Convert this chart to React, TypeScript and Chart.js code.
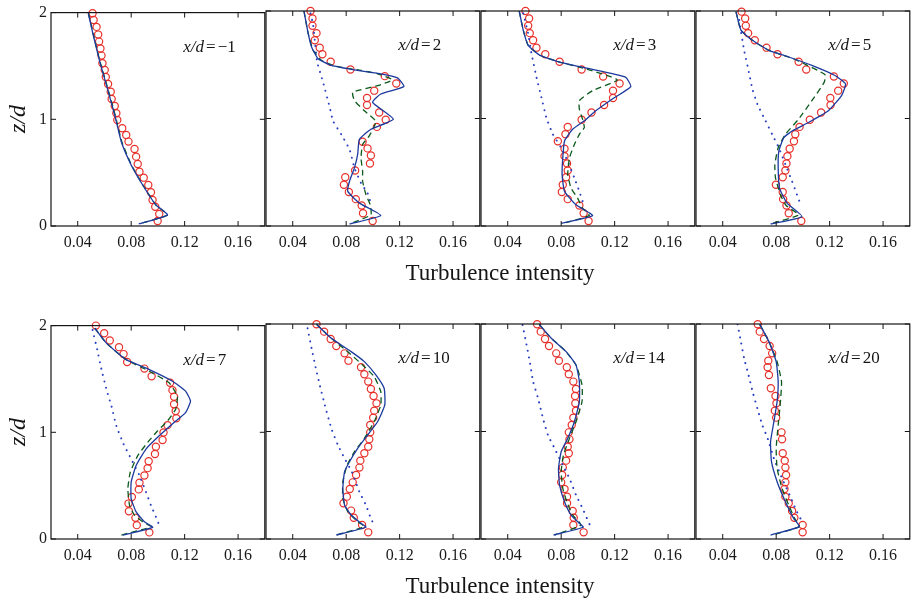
import React, { useEffect, useRef } from "react";
import { Chart, registerables } from "chart.js";

Chart.register(...registerables);

type P = [number, number];

const xTicks = [0.04, 0.08, 0.12, 0.16];
const zTicks = [0, 1, 2];
const xdLabels = ["\u22121", "2", "3", "5", "7", "10", "14", "20"];
const xTitle = "Turbulence intensity";

// x/d = -1
const p1Exp: P[] = [[0.0511,1.994],[0.0519,1.931],[0.0541,1.866],[0.0553,1.794],[0.0560,1.728],[0.0570,1.663],[0.0578,1.597],[0.0585,1.525],[0.0602,1.463],[0.0610,1.397],[0.0627,1.331],[0.0647,1.259],[0.0654,1.191],[0.0677,1.125],[0.0689,1.056],[0.0696,0.994],[0.0733,0.916],[0.0763,0.853],[0.0780,0.791],[0.0825,0.722],[0.0837,0.650],[0.0849,0.581],[0.0862,0.509],[0.0894,0.453],[0.0928,0.384],[0.0948,0.316],[0.0960,0.244],[0.0980,0.181],[0.1010,0.113],[0.0998,0.047]];
const p1Les: P[] = [[0.0479,1.994],[0.0516,1.79],[0.0565,1.54],[0.0615,1.32],[0.0677,1.04],[0.0726,0.79],[0.0800,0.572],[0.0886,0.384],[0.0985,0.197],[0.1072,0.103],[0.0857,0.019]];
const p1Rans: P[] = [[0.0480,1.994],[0.0518,1.79],[0.0567,1.54],[0.0618,1.32],[0.0680,1.04],[0.0730,0.79],[0.0802,0.572],[0.0888,0.384],[0.0985,0.197],[0.1070,0.103],[0.0857,0.019]];
const p1Dot: P[] = [];

// x/d = 2
const p2Exp: P[] = [[0.0533,2.0],[0.0548,1.931],[0.0548,1.862],[0.0578,1.794],[0.0565,1.728],[0.0602,1.659],[0.0622,1.597],[0.0684,1.528],[0.0832,1.456],[0.1089,1.394],[0.1175,1.325],[0.1010,1.259],[0.0956,1.191],[0.0956,1.125],[0.1047,1.056],[0.1096,0.988],[0.1030,0.922],[0.0923,0.784],[0.0960,0.722],[0.0985,0.656],[0.0978,0.581],[0.0867,0.516],[0.0793,0.453],[0.0783,0.384],[0.0820,0.316],[0.0872,0.25],[0.0916,0.191],[0.0926,0.119],[0.0998,0.047]];
const p2Les: P[] = [[0.0484,2.0],[0.0516,1.79],[0.0541,1.666],[0.0590,1.556],[0.0689,1.494],[0.0886,1.447],[0.1059,1.416],[0.1183,1.378],[0.1232,1.297],[0.1059,1.228],[0.0998,1.15],[0.1153,0.994],[0.0985,0.9],[0.0899,0.806],[0.0886,0.666],[0.0862,0.541],[0.0825,0.416],[0.0812,0.322],[0.0899,0.213],[0.1059,0.097],[0.0825,0.019]];
const p2Rans: P[] = [[0.0484,2.0],[0.0516,1.79],[0.0553,1.634],[0.0615,1.541],[0.0714,1.488],[0.0911,1.447],[0.1035,1.416],[0.1146,1.359],[0.1035,1.306],[0.0849,1.244],[0.0862,1.166],[0.0936,1.072],[0.1022,0.972],[0.0973,0.838],[0.0923,0.759],[0.0911,0.634],[0.0923,0.509],[0.0923,0.416],[0.0948,0.291],[0.0980,0.197],[0.0985,0.103],[0.0837,0.025]];
const p2Dot: P[] = [[0.0533,1.978],[0.0553,1.869],[0.0565,1.728],[0.0583,1.525],[0.0627,1.338],[0.0677,1.103],[0.0701,0.978],[0.0763,0.853],[0.0825,0.713],[0.0862,0.541],[0.0911,0.4],[0.0960,0.306],[0.0985,0.213]];

// x/d = 3
const p3Exp: P[] = [[0.0533,2.0],[0.0560,1.931],[0.0553,1.862],[0.0565,1.794],[0.0590,1.728],[0.0615,1.659],[0.0681,1.597],[0.0788,1.528],[0.0953,1.456],[0.1114,1.391],[0.1237,1.325],[0.1188,1.259],[0.1188,1.191],[0.1121,1.125],[0.1027,1.056],[0.0953,0.988],[0.0849,0.922],[0.0832,0.853],[0.0775,0.788],[0.0825,0.719],[0.0825,0.65],[0.0844,0.581],[0.0849,0.516],[0.0837,0.453],[0.0812,0.384],[0.0805,0.316],[0.0849,0.25],[0.0936,0.191],[0.0968,0.119],[0.1005,0.047]];
const p3Les: P[] = [[0.0486,2.0],[0.0516,1.822],[0.0553,1.681],[0.0640,1.588],[0.0788,1.525],[0.1010,1.463],[0.1281,1.384],[0.1321,1.297],[0.1183,1.181],[0.1059,1.072],[0.0973,0.978],[0.0886,0.9],[0.0825,0.791],[0.0812,0.634],[0.0807,0.478],[0.0825,0.322],[0.0911,0.197],[0.1035,0.097],[0.0800,0.025]];
const p3Rans: P[] = [[0.0486,2.0],[0.0516,1.822],[0.0553,1.681],[0.0640,1.588],[0.0788,1.525],[0.1010,1.453],[0.1220,1.359],[0.1035,1.259],[0.0936,1.166],[0.0936,1.088],[0.0960,0.994],[0.0973,0.916],[0.0936,0.853],[0.0899,0.759],[0.0862,0.634],[0.0849,0.478],[0.0874,0.353],[0.0923,0.259],[0.0960,0.166],[0.1010,0.097],[0.0812,0.025]];
const p3Dot: P[] = [[0.0516,1.978],[0.0553,1.79],[0.0578,1.603],[0.0615,1.384],[0.0652,1.197],[0.0689,1.009],[0.0738,0.853],[0.0800,0.728],[0.0849,0.603],[0.0899,0.447],[0.0936,0.322],[0.0973,0.181]];

// x/d = 5
const p4Exp: P[] = [[0.0541,1.994],[0.0568,1.931],[0.0573,1.862],[0.0590,1.794],[0.0640,1.728],[0.0728,1.659],[0.0810,1.597],[0.0968,1.528],[0.1025,1.456],[0.1232,1.391],[0.1306,1.325],[0.1264,1.259],[0.1205,1.191],[0.1207,1.125],[0.1136,1.056],[0.1052,0.988],[0.0975,0.922],[0.0943,0.853],[0.0933,0.788],[0.0901,0.719],[0.0884,0.65],[0.0877,0.581],[0.0869,0.516],[0.0849,0.453],[0.0798,0.384],[0.0849,0.316],[0.0852,0.25],[0.0877,0.191],[0.0894,0.119],[0.0988,0.047]];
const p4Les: P[] = [[0.0499,1.994],[0.0536,1.822],[0.0622,1.728],[0.0746,1.634],[0.0894,1.572],[0.1067,1.494],[0.1240,1.4],[0.1319,1.322],[0.1289,1.213],[0.1190,1.072],[0.1042,0.963],[0.0919,0.884],[0.0857,0.822],[0.0820,0.697],[0.0815,0.541],[0.0825,0.353],[0.0881,0.213],[0.0993,0.088],[0.0758,0.019]];
const p4Rans: P[] = [[0.0499,1.994],[0.0536,1.822],[0.0622,1.728],[0.0746,1.634],[0.0894,1.572],[0.0968,1.534],[0.1165,1.409],[0.1160,1.338],[0.1067,1.166],[0.0968,0.994],[0.0869,0.853],[0.0815,0.728],[0.0790,0.572],[0.0795,0.447],[0.0832,0.291],[0.0874,0.191],[0.0968,0.103],[0.0770,0.025]];
const p4Dot: P[] = [[0.0523,1.916],[0.0560,1.634],[0.0593,1.447],[0.0622,1.275],[0.0659,1.134],[0.0721,0.978],[0.0770,0.853],[0.0820,0.728],[0.0869,0.572],[0.0919,0.416],[0.0956,0.291],[0.0988,0.181]];

// x/d = 7
const p5Exp: P[] = [[0.0536,2.0],[0.0598,1.929],[0.0640,1.86],[0.0709,1.798],[0.0743,1.733],[0.0770,1.659],[0.0899,1.597],[0.0953,1.526],[0.1091,1.464],[0.1109,1.395],[0.1121,1.333],[0.1121,1.262],[0.1133,1.2],[0.1138,1.132],[0.1072,1.067],[0.1042,0.998],[0.1035,0.927],[0.0985,0.865],[0.0978,0.797],[0.0931,0.729],[0.0923,0.664],[0.0899,0.595],[0.0862,0.527],[0.0857,0.465],[0.0805,0.394],[0.0780,0.332],[0.0783,0.26],[0.0832,0.198],[0.0842,0.13],[0.0936,0.062]];
const p5Les: P[] = [[0.0528,1.975],[0.0615,1.836],[0.0763,1.681],[0.0936,1.588],[0.1109,1.479],[0.1207,1.386],[0.1244,1.293],[0.1207,1.184],[0.1121,1.091],[0.1010,0.967],[0.0911,0.843],[0.0837,0.688],[0.0800,0.533],[0.0800,0.378],[0.0837,0.254],[0.0899,0.161],[0.0961,0.109],[0.0738,0.037]];
const p5Rans: P[] = [[0.0528,1.975],[0.0615,1.836],[0.0763,1.681],[0.0936,1.572],[0.1084,1.464],[0.1146,1.34],[0.1133,1.216],[0.1072,1.107],[0.0998,1.014],[0.0923,0.905],[0.0849,0.781],[0.0793,0.626],[0.0775,0.471],[0.0788,0.316],[0.0825,0.223],[0.0886,0.161],[0.0948,0.115],[0.0726,0.037]];
const p5Dot: P[] = [[0.0511,1.96],[0.0546,1.774],[0.0578,1.588],[0.0615,1.402],[0.0652,1.247],[0.0689,1.06],[0.0743,0.89],[0.0800,0.75],[0.0862,0.595],[0.0911,0.44],[0.0948,0.316],[0.0985,0.208],[0.1010,0.13]];

// x/d = 10
const p6Exp: P[] = [[0.0578,1.997],[0.0635,1.929],[0.0684,1.86],[0.0726,1.795],[0.0788,1.727],[0.0817,1.659],[0.0911,1.597],[0.0936,1.532],[0.0965,1.464],[0.0985,1.395],[0.1005,1.33],[0.1027,1.262],[0.1010,1.194],[0.1002,1.129],[0.0980,1.06],[0.0980,0.992],[0.0973,0.927],[0.0965,0.859],[0.0936,0.797],[0.0906,0.729],[0.0899,0.664],[0.0874,0.595],[0.0849,0.527],[0.0827,0.465],[0.0805,0.394],[0.0780,0.332],[0.0837,0.264],[0.0857,0.198],[0.0919,0.13],[0.0965,0.062]];
const p6Les: P[] = [[0.0578,1.997],[0.0689,1.867],[0.0837,1.743],[0.0936,1.65],[0.1022,1.526],[0.1084,1.402],[0.1089,1.247],[0.1035,1.091],[0.0960,0.967],[0.0886,0.843],[0.0825,0.719],[0.0788,0.626],[0.0775,0.471],[0.0788,0.316],[0.0837,0.223],[0.0911,0.146],[0.0948,0.109],[0.0726,0.037]];
const p6Rans: P[] = [[0.0578,1.997],[0.0689,1.867],[0.0825,1.727],[0.0923,1.619],[0.1010,1.51],[0.1059,1.371],[0.1059,1.247],[0.1010,1.091],[0.0936,0.936],[0.0862,0.812],[0.0807,0.688],[0.0775,0.533],[0.0775,0.378],[0.0812,0.254],[0.0886,0.161],[0.0936,0.115],[0.0726,0.037]];
const p6Dot: P[] = [[0.0511,1.96],[0.0541,1.774],[0.0573,1.588],[0.0602,1.433],[0.0640,1.247],[0.0689,1.029],[0.0738,0.874],[0.0788,0.75],[0.0842,0.626],[0.0899,0.44],[0.0948,0.316],[0.0980,0.208],[0.1010,0.124]];

// x/d = 14
const p7Exp: P[] = [[0.0620,1.997],[0.0647,1.929],[0.0679,1.86],[0.0709,1.795],[0.0763,1.727],[0.0783,1.659],[0.0842,1.597],[0.0857,1.532],[0.0891,1.464],[0.0911,1.395],[0.0904,1.33],[0.0906,1.262],[0.0911,1.194],[0.0891,1.129],[0.0879,1.06],[0.0857,0.992],[0.0862,0.927],[0.0849,0.859],[0.0857,0.797],[0.0837,0.729],[0.0812,0.664],[0.0807,0.595],[0.0800,0.527],[0.0825,0.465],[0.0844,0.394],[0.0844,0.332],[0.0886,0.26],[0.0894,0.198],[0.0891,0.13],[0.0968,0.062]];
const p7Les: P[] = [[0.0635,1.997],[0.0726,1.867],[0.0837,1.743],[0.0911,1.619],[0.0936,1.464],[0.0936,1.278],[0.0899,1.091],[0.0849,0.936],[0.0800,0.812],[0.0780,0.657],[0.0788,0.502],[0.0825,0.347],[0.0874,0.223],[0.0936,0.146],[0.0965,0.109],[0.0743,0.037]];
const p7Rans: P[] = [[0.0635,1.997],[0.0714,1.882],[0.0825,1.758],[0.0911,1.619],[0.0956,1.433],[0.0956,1.278],[0.0911,1.091],[0.0862,0.936],[0.0817,0.781],[0.0800,0.626],[0.0812,0.471],[0.0842,0.347],[0.0886,0.223],[0.0948,0.13],[0.0751,0.037]];
const p7Dot: P[] = [[0.0511,1.991],[0.0541,1.805],[0.0565,1.65],[0.0590,1.464],[0.0627,1.309],[0.0664,1.122],[0.0701,0.967],[0.0751,0.843],[0.0812,0.688],[0.0862,0.564],[0.0911,0.409],[0.0960,0.285],[0.0998,0.177],[0.1015,0.13]];

// x/d = 20
const p8Exp: P[] = [[0.0662,1.997],[0.0677,1.929],[0.0709,1.86],[0.0751,1.795],[0.0770,1.727],[0.0741,1.659],[0.0736,1.597],[0.0746,1.526],[0.0760,1.402],[0.0795,1.33],[0.0802,1.262],[0.0790,1.194],[0.0800,1.129],[0.0840,0.992],[0.0844,0.927],[0.0849,0.797],[0.0864,0.729],[0.0869,0.664],[0.0874,0.595],[0.0869,0.527],[0.0862,0.465],[0.0869,0.394],[0.0894,0.332],[0.0919,0.26],[0.0936,0.198],[0.0998,0.13],[0.0998,0.062]];
const p8Les: P[] = [[0.0677,1.997],[0.0746,1.836],[0.0800,1.65],[0.0815,1.464],[0.0807,1.278],[0.0783,1.091],[0.0758,0.905],[0.0765,0.719],[0.0807,0.533],[0.0869,0.347],[0.0931,0.192],[0.0973,0.115],[0.0758,0.037]];
const p8Rans: P[] = [[0.0677,1.997],[0.0746,1.836],[0.0807,1.65],[0.0840,1.464],[0.0832,1.278],[0.0815,1.06],[0.0800,0.843],[0.0807,0.657],[0.0844,0.471],[0.0894,0.316],[0.0938,0.192],[0.0973,0.115],[0.0770,0.037]];
const p8Dot: P[] = [[0.0511,1.997],[0.0536,1.836],[0.0560,1.681],[0.0593,1.526],[0.0627,1.355],[0.0659,1.216],[0.0696,1.06],[0.0738,0.93],[0.0783,0.75],[0.0844,0.564],[0.0906,0.394],[0.0948,0.27],[0.0988,0.177]];

const panels = [
  { exp: p1Exp, les: p1Les, rans: p1Rans, dot: p1Dot },
  { exp: p2Exp, les: p2Les, rans: p2Rans, dot: p2Dot },
  { exp: p3Exp, les: p3Les, rans: p3Rans, dot: p3Dot },
  { exp: p4Exp, les: p4Les, rans: p4Rans, dot: p4Dot },
  { exp: p5Exp, les: p5Les, rans: p5Rans, dot: p5Dot },
  { exp: p6Exp, les: p6Les, rans: p6Rans, dot: p6Dot },
  { exp: p7Exp, les: p7Les, rans: p7Rans, dot: p7Dot },
  { exp: p8Exp, les: p8Les, rans: p8Rans, dot: p8Dot },
];

// layout
const colLefts = [51, 266, 481, 696];
const rowTops = [11, 324];
const SIZE = 215;
const PAD_L = 52;
const PAD_T = 12;
const PAD_R = 4;
const PAD_B = 36;
const LABEL_X = 0.119;
const LABEL_Z = 1.633;

const FONT = "'Liberation Serif', 'Times New Roman', serif";
const RED = "#e8302a";
const BLUE = "#1c3a9e";
const GREEN = "#0c5a1c";
const DOTBLUE = "#2a40c0";

const toXY = (arr: P[]) => arr.map(([x, y]) => ({ x, y }));

const framePlugin = {
  id: "frame",
  afterDraw(chart: any, _args: any, opts: any) {
    const { ctx, chartArea: a, scales } = chart;
    const xs = scales.x;
    const ys = scales.y;
    ctx.save();
    ctx.strokeStyle = "#151515";
    ctx.lineWidth = 1.2;
    ctx.strokeRect(a.left, a.top, a.right - a.left, a.bottom - a.top);
    ctx.lineWidth = 1;
    ctx.beginPath();
    for (const v of xTicks) {
      const px = xs.getPixelForValue(v);
      ctx.moveTo(px, a.bottom);
      ctx.lineTo(px, a.bottom - 5);
      ctx.moveTo(px, a.top);
      ctx.lineTo(px, a.top + 5);
    }
    for (const v of zTicks) {
      const py = ys.getPixelForValue(v);
      ctx.moveTo(a.left, py);
      ctx.lineTo(a.left + 5, py);
      ctx.moveTo(a.right, py);
      ctx.lineTo(a.right - 5, py);
    }
    ctx.stroke();
    // panel label
    const lx = xs.getPixelForValue(LABEL_X);
    const ly = ys.getPixelForValue(LABEL_Z);
    ctx.fillStyle = "#151515";
    ctx.textBaseline = "alphabetic";
    ctx.textAlign = "left";
    ctx.font = `italic 17px ${FONT}`;
    const a1 = "x/d";
    ctx.fillText(a1, lx, ly);
    let cx = lx + ctx.measureText(a1).width + 2;
    ctx.font = `17px ${FONT}`;
    ctx.fillText("=", cx, ly);
    cx += ctx.measureText("=").width + 2;
    ctx.fillText(opts.label, cx, ly);
    ctx.restore();
  },
};

function Panel({ idx }: { idx: number }) {
  const ref = useRef<HTMLCanvasElement | null>(null);
  const col = idx % 4;
  const row = Math.floor(idx / 4);
  const W = PAD_L + SIZE + PAD_R;
  const H = PAD_T + SIZE + PAD_B;
  useEffect(() => {
    if (!ref.current) return;
    const p = panels[idx];
    const datasets: any[] = [
      {
        data: toXY(p.les),
        showLine: true,
        borderColor: BLUE,
        borderWidth: 1.3,
        pointRadius: 0,
        tension: 0.15,
        borderJoinStyle: "round",
        order: 0,
      },
      {
        data: toXY(p.rans),
        showLine: true,
        borderColor: GREEN,
        borderWidth: 1.3,
        borderDash: [6, 4],
        pointRadius: 0,
        tension: 0.15,
        order: 1,
      },
      {
        data: toXY(p.dot),
        showLine: true,
        borderColor: DOTBLUE,
        borderWidth: 2,
        borderDash: [0.1, 6.5],
        borderCapStyle: "round",
        pointRadius: 0,
        tension: 0.15,
        order: 2,
      },
      {
        data: toXY(p.exp),
        showLine: false,
        pointRadius: 3.6,
        pointBorderWidth: 1.2,
        pointBorderColor: RED,
        pointBackgroundColor: "rgba(0,0,0,0)",
        clip: false,
        order: 3,
      },
    ];
    const chart = new Chart(ref.current, {
      type: "scatter",
      data: { datasets },
      plugins: [framePlugin as any],
      options: {
        animation: false,
        responsive: false,
        events: [],
        layout: { padding: { top: PAD_T, right: PAD_R, left: 0, bottom: 0 } },
        plugins: {
          legend: { display: false },
          tooltip: { enabled: false },
          frame: { label: xdLabels[idx] },
        } as any,
        scales: {
          x: {
            type: "linear",
            min: 0.02,
            max: 0.18,
            grid: { display: false, drawTicks: false },
            border: { display: false },
            afterBuildTicks: (s: any) => {
              s.ticks = xTicks.map((v) => ({ value: v }));
            },
            afterFit: (s: any) => {
              s.height = PAD_B;
            },
            ticks: {
              padding: 7,
              color: "#1a1a1a",
              font: { family: FONT, size: 16 },
              maxRotation: 0,
              autoSkip: false,
              callback: (v: any) => Number(v).toFixed(2),
            },
          },
          y: {
            type: "linear",
            min: 0,
            max: 2,
            grid: { display: false, drawTicks: false },
            border: { display: false },
            afterBuildTicks: (s: any) => {
              s.ticks = zTicks.map((v) => ({ value: v }));
            },
            afterFit: (s: any) => {
              s.width = PAD_L;
            },
            ticks: {
              display: col === 0,
              padding: 4,
              color: "#1a1a1a",
              font: { family: FONT, size: 16 },
              autoSkip: false,
              callback: (v: any) => String(v),
            },
          },
        },
      } as any,
    });
    return () => chart.destroy();
  }, [idx]);
  return (
    <canvas
      ref={ref}
      width={W}
      height={H}
      style={{
        position: "absolute",
        left: colLefts[col] - PAD_L,
        top: rowTops[row] - PAD_T,
        width: W,
        height: H,
      }}
    />
  );
}

export default function App() {
  const idxs = [0, 1, 2, 3, 4, 5, 6, 7];
  return (
    <div
      style={{
        position: "absolute",
        left: 0,
        top: 0,
        width: 912,
        height: 600,
        background: "#fff",
        overflow: "hidden",
        fontFamily: FONT,
      }}
    >
      {idxs.map((i) => (
        <Panel key={i} idx={i} />
      ))}
      {rowTops.map((t, r) => (
        <React.Fragment key={r}>
          <div
            style={{
              position: "absolute",
              left: 17 - 40,
              top: t + SIZE / 2 - 15,
              width: 80,
              height: 30,
              lineHeight: "30px",
              textAlign: "center",
              fontStyle: "italic",
              fontSize: 24,
              color: "#151515",
              transform: "rotate(-90deg)",
            }}
          >
            z/d
          </div>
          <div
            style={{
              position: "absolute",
              left: 500 - 160,
              top: t + SIZE + 35,
              width: 320,
              height: 23,
              lineHeight: "23px",
              textAlign: "center",
              fontSize: 23,
              color: "#151515",
              whiteSpace: "nowrap",
            }}
          >
            {xTitle}
          </div>
        </React.Fragment>
      ))}
    </div>
  );
}
